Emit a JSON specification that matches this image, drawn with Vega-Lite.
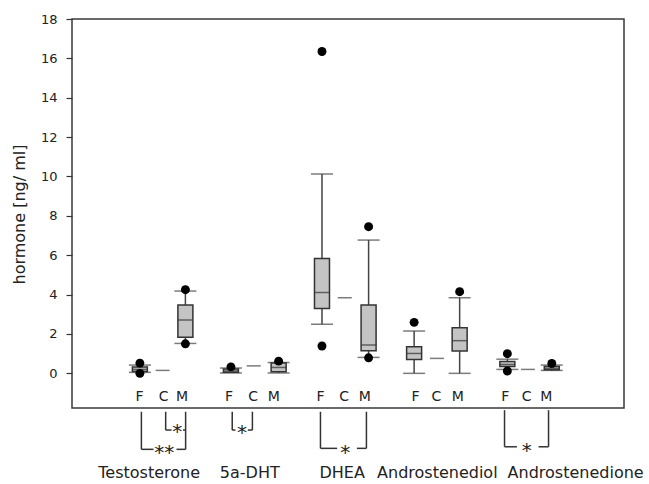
{
  "$schema": "https://vega.github.io/schema/vega-lite/v6.json",
  "width": 552,
  "height": 389,
  "autosize": {"type": "none"},
  "padding": {"left": 72, "top": 19, "right": 25, "bottom": 76},
  "background": "white",
  "config": {
    "font": "DejaVu Sans",
    "view": {"stroke": "#3a3a3a", "strokeWidth": 1.5},
    "axis": {"grid": false}
  },
  "datasets": {
    "boxes": [
      {"hormone": "Testosterone", "group": "F", "pos": 2.9, "lower": 0.05, "q1": 0.1, "median": 0.2, "q3": 0.32, "upper": 0.42},
      {"hormone": "Testosterone", "group": "M", "pos": 5.0, "lower": 1.52, "q1": 1.83, "median": 2.71, "q3": 3.47, "upper": 4.18},
      {"hormone": "5a-DHT", "group": "F", "pos": 7.1, "lower": 0.02, "q1": 0.05, "median": 0.12, "q3": 0.22, "upper": 0.27},
      {"hormone": "5a-DHT", "group": "M", "pos": 9.3, "lower": 0.02, "q1": 0.08, "median": 0.3, "q3": 0.52, "upper": 0.55},
      {"hormone": "DHEA", "group": "F", "pos": 11.3, "lower": 2.49, "q1": 3.3, "median": 4.11, "q3": 5.84, "upper": 10.13},
      {"hormone": "DHEA", "group": "M", "pos": 13.45, "lower": 0.81, "q1": 1.15, "median": 1.44, "q3": 3.47, "upper": 6.77},
      {"hormone": "Androstenediol", "group": "F", "pos": 15.55, "lower": 0.0, "q1": 0.71, "median": 1.01, "q3": 1.35, "upper": 2.15},
      {"hormone": "Androstenediol", "group": "M", "pos": 17.65, "lower": 0.0, "q1": 1.13, "median": 1.66, "q3": 2.32, "upper": 3.84},
      {"hormone": "Androstenedione", "group": "F", "pos": 19.85, "lower": 0.2, "q1": 0.35, "median": 0.45, "q3": 0.6, "upper": 0.72},
      {"hormone": "Androstenedione", "group": "M", "pos": 21.9, "lower": 0.15, "q1": 0.18, "median": 0.25, "q3": 0.35, "upper": 0.42}
    ],
    "controls": [
      {"hormone": "Testosterone", "pos": 3.95, "value": 0.15},
      {"hormone": "5a-DHT", "pos": 8.15, "value": 0.38},
      {"hormone": "DHEA", "pos": 12.35, "value": 3.84},
      {"hormone": "Androstenediol", "pos": 16.6, "value": 0.76},
      {"hormone": "Androstenedione", "pos": 20.8, "value": 0.2}
    ],
    "outliers": [
      {"hormone": "Testosterone", "group": "F", "pos": 2.9, "value": 0.52},
      {"hormone": "Testosterone", "group": "F", "pos": 2.9, "value": 0.0},
      {"hormone": "Testosterone", "group": "M", "pos": 5.0, "value": 4.25},
      {"hormone": "Testosterone", "group": "M", "pos": 5.0, "value": 1.5},
      {"hormone": "5a-DHT", "group": "F", "pos": 7.1, "value": 0.33},
      {"hormone": "5a-DHT", "group": "M", "pos": 9.3, "value": 0.62},
      {"hormone": "DHEA", "group": "F", "pos": 11.3, "value": 16.35},
      {"hormone": "DHEA", "group": "F", "pos": 11.3, "value": 1.39},
      {"hormone": "DHEA", "group": "M", "pos": 13.45, "value": 7.45},
      {"hormone": "DHEA", "group": "M", "pos": 13.45, "value": 0.79},
      {"hormone": "Androstenediol", "group": "F", "pos": 15.55, "value": 2.59},
      {"hormone": "Androstenediol", "group": "M", "pos": 17.65, "value": 4.15},
      {"hormone": "Androstenedione", "group": "F", "pos": 19.85, "value": 1.0},
      {"hormone": "Androstenedione", "group": "F", "pos": 19.85, "value": 0.12},
      {"hormone": "Androstenedione", "group": "M", "pos": 21.9, "value": 0.5}
    ],
    "grouplabels": [
      {"label": "F", "pos": 2.88}, {"label": "C", "pos": 4.0}, {"label": "M", "pos": 4.85},
      {"label": "F", "pos": 7.01}, {"label": "C", "pos": 8.13}, {"label": "M", "pos": 9.08},
      {"label": "F", "pos": 11.23}, {"label": "C", "pos": 12.32}, {"label": "M", "pos": 13.27},
      {"label": "F", "pos": 15.61}, {"label": "C", "pos": 16.58}, {"label": "M", "pos": 17.57},
      {"label": "F", "pos": 19.75}, {"label": "C", "pos": 20.74}, {"label": "M", "pos": 21.65}
    ],
    "brackets": [
      {"x": 2.97, "x2": 2.97, "y": -1.95, "y2": -3.86},
      {"x": 5.01, "x2": 5.01, "y": -1.95, "y2": -3.86},
      {"x": 2.97, "x2": 3.53, "y": -3.86, "y2": -3.86},
      {"x": 4.59, "x2": 5.01, "y": -3.86, "y2": -3.86},
      {"x": 4.09, "x2": 4.09, "y": -1.95, "y2": -2.88},
      {"x": 4.09, "x2": 4.36, "y": -2.88, "y2": -2.88},
      {"x": 4.89, "x2": 5.01, "y": -2.88, "y2": -2.88},
      {"x": 7.16, "x2": 7.16, "y": -1.95, "y2": -2.88},
      {"x": 8.09, "x2": 8.09, "y": -1.95, "y2": -2.88},
      {"x": 7.16, "x2": 7.31, "y": -2.88, "y2": -2.88},
      {"x": 7.88, "x2": 8.09, "y": -2.88, "y2": -2.88},
      {"x": 11.23, "x2": 11.23, "y": -1.95, "y2": -3.81},
      {"x": 13.35, "x2": 13.35, "y": -1.95, "y2": -3.81},
      {"x": 11.23, "x2": 12.0, "y": -3.81, "y2": -3.81},
      {"x": 12.91, "x2": 13.35, "y": -3.81, "y2": -3.81},
      {"x": 19.72, "x2": 19.72, "y": -1.87, "y2": -3.73},
      {"x": 21.75, "x2": 21.75, "y": -1.87, "y2": -3.73},
      {"x": 19.72, "x2": 20.29, "y": -3.73, "y2": -3.73},
      {"x": 21.29, "x2": 21.75, "y": -3.73, "y2": -3.73}
    ],
    "stars": [
      {"text": "*", "x": 4.62, "y": -3.3},
      {"text": "**", "x": 4.03, "y": -4.36},
      {"text": "*", "x": 7.61, "y": -3.33},
      {"text": "*", "x": 12.37, "y": -4.33},
      {"text": "*", "x": 20.74, "y": -4.24}
    ],
    "names": [
      {"name": "Testosterone", "x": 3.33},
      {"name": "5a-DHT", "x": 7.97},
      {"name": "DHEA", "x": 12.23},
      {"name": "Androstenediol", "x": 16.62},
      {"name": "Androstenedione", "x": 23.0}
    ]
  },
  "encoding": {
    "x": {"type": "quantitative", "scale": {"domain": [0, 25], "nice": false, "zero": false}, "axis": null}
  },
  "layer": [
    {
      "data": {"name": "boxes"},
      "mark": {"type": "rule", "color": "#444", "strokeWidth": 1.5},
      "encoding": {
        "x": {"field": "pos", "type": "quantitative"},
        "y": {"field": "lower", "type": "quantitative",
              "scale": {"domain": [-1.76, 18], "nice": false, "zero": false},
              "axis": {"values": [0, 2, 4, 6, 8, 10, 12, 14, 16, 18], "title": "hormone [ng/ ml]",
                       "domain": false, "tickSize": 6, "tickColor": "#333", "tickWidth": 1.2,
                       "labelFontSize": 13, "labelColor": "#222", "labelPadding": 9,
                       "titleFontSize": 16, "titleFontWeight": "normal", "titleColor": "#222",
                       "titleAngle": -90, "titleAlign": "center", "titleBaseline": "middle",
                       "titleX": -53, "titleY": 195}},
        "y2": {"field": "upper"}
      }
    },
    {
      "data": {"name": "boxes"},
      "mark": {"type": "tick", "orient": "horizontal", "size": 22, "thickness": 1.5, "color": "#444"},
      "encoding": {
        "x": {"field": "pos", "type": "quantitative"},
        "y": {"field": "lower", "type": "quantitative"}
      }
    },
    {
      "data": {"name": "boxes"},
      "mark": {"type": "tick", "orient": "horizontal", "size": 22, "thickness": 1.5, "color": "#444"},
      "encoding": {
        "x": {"field": "pos", "type": "quantitative"},
        "y": {"field": "upper", "type": "quantitative"}
      }
    },
    {
      "data": {"name": "boxes"},
      "mark": {"type": "bar", "orient": "vertical", "width": 15, "fill": "#c4c4c4", "stroke": "#333", "strokeWidth": 1.5},
      "encoding": {
        "x": {"field": "pos", "type": "quantitative"},
        "y": {"field": "q1", "type": "quantitative"},
        "y2": {"field": "q3"}
      }
    },
    {
      "data": {"name": "boxes"},
      "mark": {"type": "tick", "orient": "horizontal", "size": 15, "thickness": 1.5, "color": "#333"},
      "encoding": {
        "x": {"field": "pos", "type": "quantitative"},
        "y": {"field": "median", "type": "quantitative"}
      }
    },
    {
      "data": {"name": "controls"},
      "mark": {"type": "tick", "orient": "horizontal", "size": 14, "thickness": 1.5, "color": "#444"},
      "encoding": {
        "x": {"field": "pos", "type": "quantitative"},
        "y": {"field": "value", "type": "quantitative"}
      }
    },
    {
      "data": {"name": "outliers"},
      "mark": {"type": "point", "filled": true, "shape": "circle", "size": 80, "color": "black", "opacity": 1},
      "encoding": {
        "x": {"field": "pos", "type": "quantitative"},
        "y": {"field": "value", "type": "quantitative"}
      }
    },
    {
      "data": {"name": "grouplabels"},
      "mark": {"type": "text", "fontSize": 14, "color": "#222", "baseline": "middle", "align": "center"},
      "encoding": {
        "x": {"field": "pos", "type": "quantitative"},
        "y": {"datum": -1.19, "type": "quantitative"},
        "text": {"field": "label"}
      }
    },
    {
      "data": {"name": "brackets"},
      "mark": {"type": "rule", "color": "#333", "strokeWidth": 1.5},
      "encoding": {
        "x": {"field": "x", "type": "quantitative"},
        "x2": {"field": "x2"},
        "y": {"field": "y", "type": "quantitative"},
        "y2": {"field": "y2"}
      }
    },
    {
      "data": {"name": "stars"},
      "mark": {"type": "text", "fontSize": 20, "color": "#222", "baseline": "alphabetic", "align": "center"},
      "encoding": {
        "x": {"field": "x", "type": "quantitative"},
        "y": {"field": "y", "type": "quantitative"},
        "text": {"field": "text"}
      }
    },
    {
      "data": {"name": "names"},
      "mark": {"type": "text", "fontSize": 16, "color": "#222", "baseline": "alphabetic", "align": "center"},
      "encoding": {
        "x": {"field": "x", "type": "quantitative"},
        "y": {"datum": -5.3, "type": "quantitative"},
        "text": {"field": "name"}
      }
    }
  ]
}
